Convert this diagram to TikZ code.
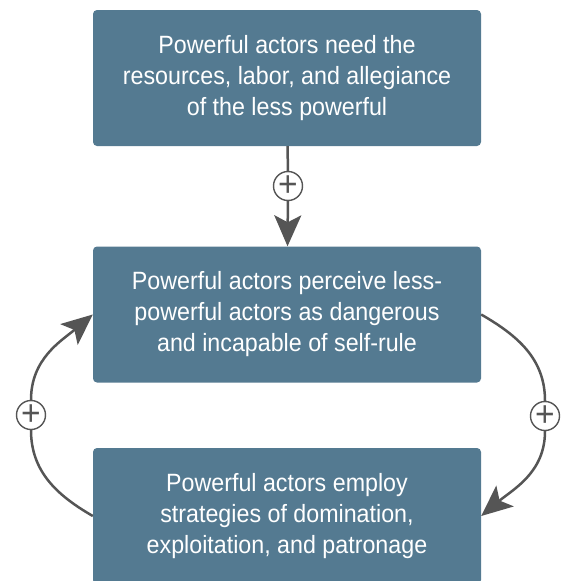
\documentclass[tikz,border=0pt]{standalone}
\usepackage{fontspec}
\setmainfont[FakeStretch=0.93]{Liberation Sans}
\usetikzlibrary{arrows.meta}
\definecolor{boxblue}{RGB}{84,122,145}
\definecolor{linkgray}{RGB}{85,85,85}
\tikzset{
  factor/.style={fill=boxblue, rounded corners=4pt, minimum width=388pt,
    minimum height=136pt, text=white, align=center, inner sep=0pt,
    font=\fontsize{25}{31}\selectfont},
  link/.style={draw=linkgray, line width=2.5pt},
  linkarrow/.style={link, -{Stealth[length=31pt,width=27pt,inset=7pt]}},
  sign/.style={circle, draw=linkgray, fill=white, line width=1.4pt,
    minimum size=29pt, inner sep=0pt, text=linkgray,
    font=\fontsize{36}{36}\selectfont},
}
\begin{document}
\begin{tikzpicture}[x=1pt,y=-1pt]
\useasboundingbox (0,0) rectangle (564,581);

\node[factor] (needs) at (287,78) {Powerful actors need the\\resources, labor, and allegiance\\of the less powerful};
\node[factor] (perceive) at (287,314.5) {Powerful actors perceive less-\\powerful actors as dangerous\\and incapable of self-rule};
\node[factor] (employ) at (287,516) {Powerful actors employ\\strategies of domination,\\exploitation, and patronage};

\node[sign] (pa) at (288,186) {+};
\node[sign] (pb) at (31,415) {+};
\node[sign] (pc) at (545,416) {+};

\draw[link] (needs) -- (pa);
\draw[linkarrow] (pa) -- (perceive);

\draw[link] (perceive.east) to[out=-30,in=90] (pc);
\draw[linkarrow] (pc) to[out=-90,in=40] (employ.east);

\draw[link] (employ.west) to[out=150,in=-90] (pb);
\draw[linkarrow] (pb) to[out=90,in=-140] (perceive.west);
\end{tikzpicture}
\end{document}
